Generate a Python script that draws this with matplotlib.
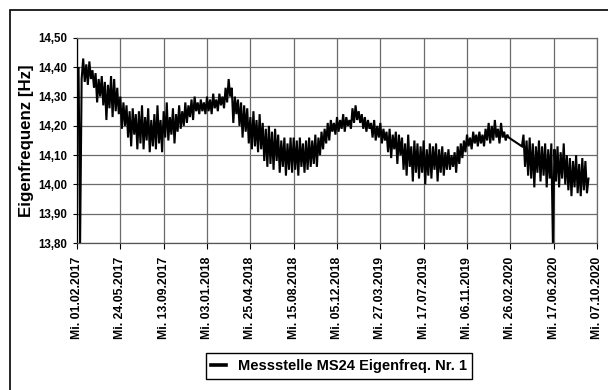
import matplotlib
matplotlib.use('Agg')
import matplotlib.pyplot as plt
from matplotlib.patches import Rectangle
import pandas as pd

plt.rcParams['font.family'] = ['Liberation Sans', 'DejaVu Sans']
plt.rcParams['font.weight'] = 'bold'

series_name = 'Messstelle MS24 Eigenfreq. Nr. 1'

# Messwerte alle 4 Tage ab 01.02.2017 (bis Mitte Feb. 2020)
freq_a = [
    14.39, 14.40, 13.80, 14.36, 14.43, 14.35, 14.41, 14.34, 14.42, 14.36,
    14.39, 14.33, 14.38, 14.28, 14.36, 14.30, 14.37, 14.27, 14.35, 14.22,
    14.34, 14.26, 14.37, 14.23, 14.36, 14.25, 14.33, 14.24, 14.30, 14.19,
    14.28, 14.20, 14.27, 14.16, 14.25, 14.13, 14.26, 14.17, 14.24, 14.12,
    14.25, 14.14, 14.27, 14.12, 14.23, 14.15, 14.26, 14.11, 14.22, 14.13,
    14.24, 14.12, 14.27, 14.14, 14.22, 14.11, 14.25, 14.16, 14.28, 14.15,
    14.23, 14.17, 14.26, 14.14, 14.24, 14.18, 14.27, 14.19, 14.25, 14.20,
    14.28, 14.21, 14.27, 14.23, 14.29, 14.22, 14.30, 14.25, 14.28, 14.24,
    14.29, 14.25, 14.28, 14.24, 14.30, 14.25, 14.29, 14.24, 14.31, 14.26,
    14.29, 14.25, 14.31, 14.27, 14.30, 14.26, 14.33, 14.28, 14.36, 14.30,
    14.33, 14.21, 14.30, 14.24, 14.29, 14.20, 14.28, 14.16, 14.27, 14.18,
    14.26, 14.14, 14.23, 14.12, 14.25, 14.13, 14.22, 14.11, 14.24, 14.12,
    14.21, 14.08, 14.19, 14.06, 14.20, 14.07, 14.18, 14.05, 14.19, 14.08,
    14.17, 14.04, 14.15, 14.06, 14.16, 14.03, 14.14, 14.05, 14.16, 14.04,
    14.16, 14.05, 14.15, 14.03, 14.16, 14.06, 14.14, 14.04, 14.15, 14.05,
    14.16, 14.06, 14.15, 14.07, 14.17, 14.06, 14.16, 14.10, 14.18, 14.12,
    14.19, 14.14, 14.21, 14.15, 14.22, 14.18, 14.21, 14.17, 14.23, 14.18,
    14.22, 14.19, 14.24, 14.18, 14.23, 14.20, 14.22, 14.19, 14.26, 14.21,
    14.27, 14.22, 14.25, 14.21, 14.24, 14.19, 14.23, 14.18, 14.22, 14.19,
    14.21, 14.16, 14.22, 14.15, 14.20, 14.16, 14.21, 14.14, 14.19, 14.15,
    14.18, 14.11, 14.19, 14.09, 14.17, 14.12, 14.18, 14.07, 14.17, 14.10,
    14.16, 14.05, 14.14, 14.03, 14.17, 14.06, 14.13, 14.01, 14.15, 14.04,
    14.14, 14.02, 14.13, 14.04, 14.15, 14.00, 14.12, 14.03, 14.14, 14.02,
    14.13, 14.05, 14.14, 14.01, 14.12, 14.04, 14.13, 14.03, 14.11, 14.05,
    14.12, 14.05, 14.10, 14.06, 14.11, 14.04, 14.13, 14.07, 14.14, 14.09,
    14.15, 14.11, 14.17, 14.13, 14.16, 14.12, 14.18, 14.14, 14.17, 14.13,
    14.18, 14.14, 14.17, 14.13, 14.19, 14.15, 14.21, 14.14, 14.20, 14.15,
    14.22, 14.16, 14.19, 14.14, 14.21, 14.16, 14.18, 14.15, 14.17, 14.16,
]

# Messwerte alle 4 Tage ab 27.03.2020 (nach der Messluecke)
freq_b = [
    14.13, 14.17, 14.06, 14.15, 14.03, 14.16, 14.02, 14.14, 13.99, 14.13,
    14.04, 14.15, 14.01, 14.13, 14.03, 14.14, 13.99, 14.12, 14.02, 14.14,
    13.80, 14.12, 14.01, 14.13, 13.99, 14.11, 14.02, 14.14, 14.00, 14.10,
    13.98, 14.09, 13.96, 14.08, 13.99, 14.10, 13.97, 14.07, 13.96, 14.09,
    13.98, 14.08, 13.97, 14.02,
]

y_ticks = [13.80, 13.90, 14.00, 14.10, 14.20, 14.30, 14.40, 14.50]
y_labels = ['13,80', '13,90', '14,00', '14,10', '14,20', '14,30', '14,40', '14,50']

x_tick_dates = ['01.02.2017', '24.05.2017', '13.09.2017', '03.01.2018', '25.04.2018',
                '15.08.2018', '05.12.2018', '27.03.2019', '17.07.2019', '06.11.2019',
                '26.02.2020', '17.06.2020', '07.10.2020']
x_labels = ['Mi. ' + d for d in x_tick_dates]

dates = pd.date_range('2017-02-01', periods=len(freq_a), freq='4D').append(
    pd.date_range('2020-03-27', periods=len(freq_b), freq='4D'))
freq = freq_a + freq_b

fig = plt.figure(figsize=(6.08, 3.90), dpi=100)
ax = fig.add_axes([77/608, 1 - 243/390, 520/608, 205/390])

ax.plot(dates, freq, color='black', lw=1.5, solid_joinstyle='miter', label=series_name)

ticks = pd.to_datetime(x_tick_dates, format='%d.%m.%Y')
ax.set_xlim(ticks[0], ticks[-1])
ax.set_ylim(13.80, 14.50)
ax.set_yticks(y_ticks)
ax.set_yticklabels(y_labels, fontsize=8.3, fontweight='bold')
ax.set_xticks(ticks)
ax.set_xticklabels(x_labels, rotation=90, fontsize=8.8, fontweight='bold')
ax.tick_params(axis='x', length=4, width=0.8, pad=6)
ax.tick_params(axis='y', length=3, width=0.8, pad=4)
ax.grid(True, color='#6a6a6a', lw=0.9)
ax.set_axisbelow(True)
for s in ax.spines.values():
    s.set_color('#6a6a6a')
    s.set_linewidth(0.9)
ax.spines['left'].set_color('black')
ax.spines['bottom'].set_color('#555555')

ax.set_ylabel('Eigenfrequenz [Hz]', fontsize=12.2, fontweight='bold', labelpad=3)

leg = fig.legend(loc='center', bbox_to_anchor=(339/608, 1 - 366/390),
                 frameon=True, fancybox=False, edgecolor='black', framealpha=1,
                 prop={'size': 10.5, 'weight': 'bold'}, handlelength=1.0,
                 borderpad=0.4, handletextpad=0.8, borderaxespad=0)
leg.get_frame().set_linewidth(1.0)
leg.get_lines()[0].set_linewidth(2.6)

# Rahmen um die Grafik (rechts und unten abgeschnitten)
fig.add_artist(Rectangle((10/608, -0.5), 2, 0.5 + 1 - 10/390,
                         transform=fig.transFigure, fill=False, lw=1.2, ec='black'))

fig.savefig('out.png', dpi=100)
